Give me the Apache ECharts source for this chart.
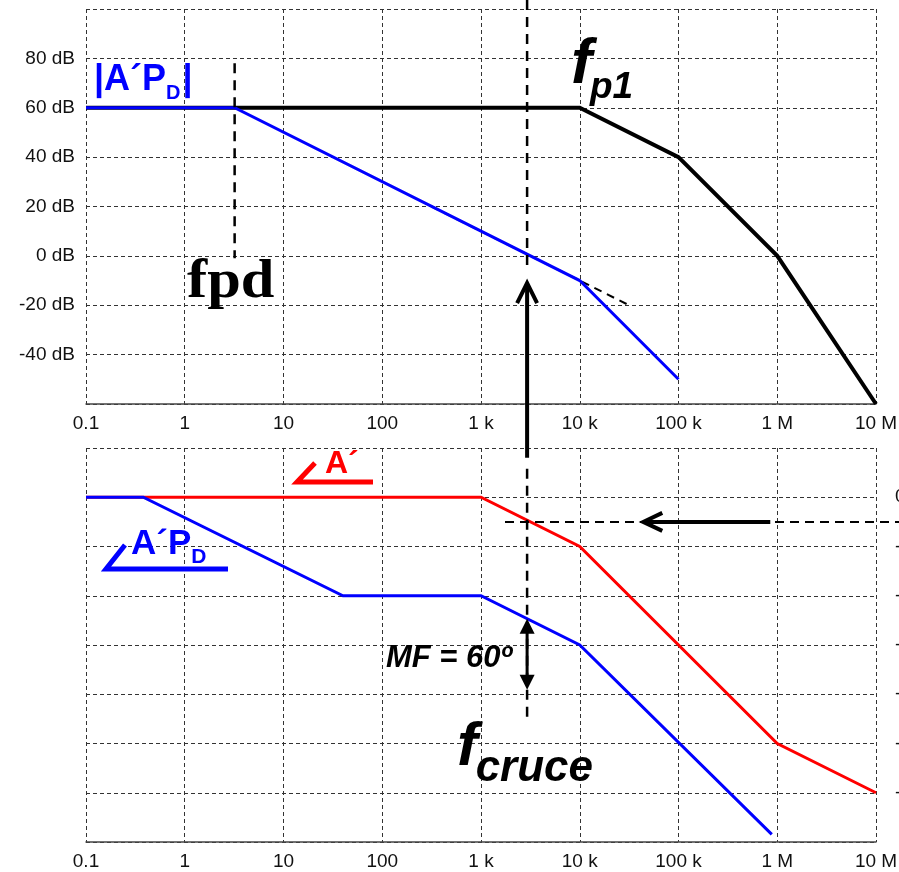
<!DOCTYPE html>
<html>
<head>
<meta charset="utf-8">
<script src="https://cdn.jsdelivr.net/npm/echarts@6/dist/echarts.min.js"></script>
<style>
  html, body { margin: 0; padding: 0; background: #fff; }
  #c { width: 899px; height: 872px; }
</style>
</head>
<body>
<div id="c"></div>
<script>
// Frequency decades (Hz) shown on both x axes
const freqTickLabels = ['0.1', '1', '10', '100', '1 k', '10 k', '100 k', '1 M', '10 M'];

// Magnitude, dB
const magOpenLoop    = [[0.1, 60], [1e4, 60], [1e5, 40], [1e6, 0], [1e7, -60]];   // |A'|
const magCompensated = [[0.1, 60], [3.2, 60], [1e4, -10], [1e5, -50]];            // |A'P_D|
const magAsymptote   = [[316, 20], [31600, -20]];                                 // -20 dB/dec continuation

// Phase, degrees
const phaseOpenLoop    = [[0.1, 0], [1e3, 0], [1e4, -45], [1e6, -225], [1e7, -270]];
const phaseCompensated = [[0.1, 0], [0.38, 0], [40, -90], [1e3, -90], [1e4, -135], [8.8e5, -308]];

// Reference frequencies and levels used by the annotations
const fpd = 3.2;          // dominant pole
const fcruce = 2930;      // unity-gain crossover
const phaseRef = -22.5;   // horizontal reference arrow level
const marginEnd = -176;   // lower end of the phase-margin arrow

const SANS = '"Liberation Sans", Arial, sans-serif';
const SERIF = '"Liberation Serif", "Times New Roman", serif';
const BLUE = '#0000ff', RED = '#ff0000', BLACK = '#000000';

const chart = echarts.init(document.getElementById('c'), null, { renderer: 'canvas' });

const gridDash = { show: true, lineStyle: { color: '#333', width: 1, type: [4, 3] } };

function freqAxis(gi) {
  return {
    type: 'log', logBase: 10, gridIndex: gi, min: 0.1, max: 1e7, splitNumber: 8,
    axisLine: { show: true, onZero: false, lineStyle: { color: '#444', width: 1.5 } },
    axisTick: { show: false }, minorTick: { show: false }, minorSplitLine: { show: false },
    splitLine: gridDash,
    axisLabel: {
      show: true, interval: 0, showMinLabel: true, showMaxLabel: true, hideOverlap: false,
      margin: 10, color: '#111', fontFamily: SANS, fontSize: 19,
      formatter: v => freqTickLabels[Math.round(Math.log10(v)) + 1] || ''
    }
  };
}

function lineSeries(xi, data, color, width, dash, z) {
  return {
    type: 'line', xAxisIndex: xi, yAxisIndex: xi, data: data,
    symbol: 'none', showSymbol: false, silent: true, animation: false, z: z,
    lineStyle: { color: color, width: width, type: dash || 'solid', cap: 'butt', join: 'miter' }
  };
}

chart.setOption({
  animation: false,
  backgroundColor: '#fff',
  grid: [
    { left: 86, top: 9, width: 790, height: 395, outerBoundsMode: 'none', containLabel: false },
    { left: 86, top: 448, width: 790, height: 394, outerBoundsMode: 'none', containLabel: false }
  ],
  xAxis: [freqAxis(0), freqAxis(1)],
  yAxis: [
    {
      type: 'value', gridIndex: 0, min: -60, max: 100, interval: 20,
      axisLine: { show: false }, axisTick: { show: false }, splitLine: gridDash,
      axisLabel: {
        margin: 11, color: '#111', fontFamily: SANS, fontSize: 19,
        showMinLabel: true, showMaxLabel: true,
        formatter: v => (v >= 100 || v <= -60) ? '' : v + ' dB'
      }
    },
    {
      type: 'value', gridIndex: 1, position: 'right', min: -315, max: 45, interval: 45,
      axisLine: { show: false }, axisTick: { show: false }, splitLine: gridDash,
      axisLabel: {
        margin: 19, color: '#111', fontFamily: SANS, fontSize: 19, align: 'left',
        showMinLabel: true, showMaxLabel: true,
        formatter: v => (v >= 45 || v <= -315) ? '' : v + 'º'
      }
    }
  ],
  series: [
    lineSeries(0, magOpenLoop, BLACK, 4, null, 3),
    lineSeries(0, magAsymptote, BLACK, 2, [8, 6], 4),
    lineSeries(0, magCompensated, BLUE, 3, null, 5),
    lineSeries(1, phaseOpenLoop, RED, 3, null, 3),
    lineSeries(1, phaseCompensated, BLUE, 3, null, 5)
  ]
});

// ---- annotations ----
const P0 = (x, y) => chart.convertToPixel({ gridIndex: 0 }, [x, y]);
const P1 = (x, y) => chart.convertToPixel({ gridIndex: 1 }, [x, y]);
const W = chart.getWidth();

// value of a piecewise-linear (in log f) curve at frequency f
function valueAt(data, f) {
  const lf = Math.log10(f);
  for (let i = 1; i < data.length; i++) {
    const a = data[i - 1], b = data[i];
    if (f <= b[0]) {
      const t = (lf - Math.log10(a[0])) / (Math.log10(b[0]) - Math.log10(a[0]));
      return a[1] + t * (b[1] - a[1]);
    }
  }
  return data[data.length - 1][1];
}

const els = [];
function seg(a, b, width, dash, color) {
  els.push({
    type: 'line', silent: true, z: 50,
    shape: { x1: a[0], y1: a[1], x2: b[0], y2: b[1] },
    style: { stroke: color || BLACK, lineWidth: width, lineDash: dash || null, lineCap: 'butt' }
  });
}
function chevron(pts, width) {
  els.push({ type: 'polyline', silent: true, z: 52, shape: { points: pts },
    style: { stroke: BLACK, lineWidth: width, fill: null, lineJoin: 'miter', lineCap: 'butt' } });
}
function tri(pts) {
  els.push({ type: 'polygon', silent: true, z: 52, shape: { points: pts }, style: { fill: BLACK, stroke: null } });
}

// fpd marker
seg(P0(fpd, 78), P0(fpd, -1), 2.5, [10, 7]);

// crossover marker through both panels
const xc = P0(fcruce, 0)[0];
seg([xc, 0], P0(fcruce, -6.5), 2.5, [10, 7]);
seg(P1(fcruce, 26), P1(fcruce, -204), 2.5, [10, 7]);

// upward arrow from the phase panel to the 0 dB crossing
const upTail = P1(fcruce, 36), upTip = P0(fcruce, -11);
seg([xc, upTail[1]], [xc, upTip[1] + 2], 4);
chevron([[xc - 10, upTip[1] + 20], [xc, upTip[1]], [xc + 10, upTip[1] + 20]], 4);

// phase margin arrow
const pmTop = P1(fcruce, valueAt(phaseCompensated, fcruce));
const pmBot = P1(fcruce, marginEnd);
seg([xc, pmTop[1] + 12], [xc, pmBot[1] - 12], 3);
tri([[xc, pmTop[1]], [xc - 7.5, pmTop[1] + 15], [xc + 7.5, pmTop[1] + 15]]);
tri([[xc, pmBot[1]], [xc - 7.5, pmBot[1] - 15], [xc + 7.5, pmBot[1] - 15]]);

// horizontal reference arrow in the phase panel
const hStart = P1(1750, phaseRef);
seg(hStart, [W, hStart[1]], 2, [9, 6]);
const hTail = P1(8.5e5, phaseRef), hTip = P1(4.4e4, phaseRef);
seg([hTail[0], hTail[1]], [hTip[0] + 2, hTip[1]], 4);
chevron([[hTip[0] + 19, hTip[1] - 9], [hTip[0], hTip[1]], [hTip[0] + 19, hTip[1] + 9]], 4);

// ---- text labels ----
const mctx = document.createElement('canvas').getContext('2d');
function measure(t, font) { mctx.font = font; return mctx.measureText(t).width; }
// place consecutive text runs; each run gives its own baseline
function label(x, runs) {
  let cx = x;
  runs.forEach(r => {
    const font = (r.style || 'bold') + ' ' + r.size + 'px ' + (r.family || SANS);
    const sx = r.scaleX || 1;
    els.push({
      type: 'text', silent: true, z: 60,
      x: cx + (r.dx || 0), y: r.base - 0.345 * r.size, scaleX: sx,
      style: {
        text: r.t, x: 0, y: 0, font: font, fill: r.color,
        align: 'left', verticalAlign: 'middle', textAlign: 'left', textVerticalAlign: 'middle'
      }
    });
    cx += measure(r.t, font) * sx + (r.dx || 0);
  });
}
function angleMark(vx, vy, tipX, tipY, endX, color, width) {
  els.push({ type: 'polyline', silent: true, z: 60,
    shape: { points: [[tipX, tipY], [vx, vy], [endX, vy]] },
    style: { stroke: color, lineWidth: width, fill: null, lineJoin: 'miter', lineCap: 'butt' } });
}

label(94, [
  { t: '|A´P', size: 36, base: 92, color: BLUE },
  { t: 'D', size: 20, base: 100, color: BLUE },
  { t: '|', size: 36, base: 92, color: BLUE, dx: 2 }
]);
label(571, [
  { t: 'f', size: 63, base: 87, color: BLACK, style: 'italic bold' },
  { t: 'p1', size: 37, base: 101, color: BLACK, style: 'italic bold', dx: -2 }
]);
label(187, [{ t: 'fpd', size: 54, base: 302, color: BLACK, family: SERIF, scaleX: 1.12 }]);

angleMark(297, 482, 315, 463, 373, RED, 5);
label(325, [{ t: 'A´', size: 32, base: 475, color: RED }]);

angleMark(106, 569, 125, 545, 228, BLUE, 5);
label(131, [
  { t: 'A´P', size: 35, base: 556, color: BLUE },
  { t: 'D', size: 21, base: 564, color: BLUE }
]);

label(386, [{ t: 'MF = 60º', size: 31, base: 669, color: BLACK, style: 'italic bold' }]);
label(457, [
  { t: 'f', size: 62, base: 769, color: BLACK, style: 'italic bold' },
  { t: 'cruce', size: 44, base: 784, color: BLACK, style: 'italic bold', dx: -2 }
]);

chart.setOption({ graphic: { elements: els } });
</script>
</body>
</html>
